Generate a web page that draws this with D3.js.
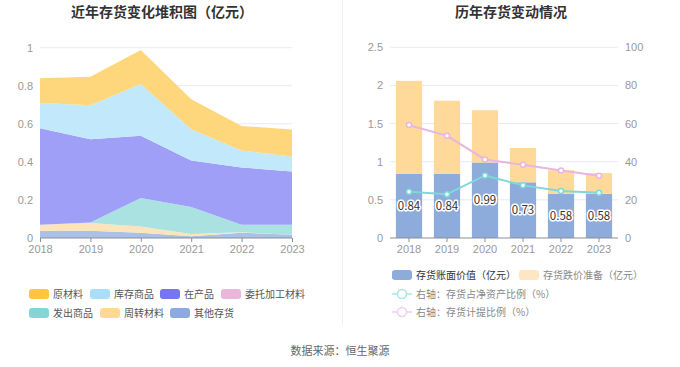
<!DOCTYPE html>
<html><head><meta charset="utf-8">
<script src="https://cdn.jsdelivr.net/npm/d3@7"></script>
<style>
body{margin:0;background:#fff;}
svg{display:block;font-family:"Noto Sans CJK SC","Noto Sans",sans-serif;}
</style></head>
<body>
<svg id="c" width="680" height="367"></svg>
<script>
const years = ["2018","2019","2020","2021","2022","2023"];
// stacked area series (亿元)
const rawMaterial = [0.129,0.150,0.179,0.157,0.129,0.142];   // 原材料
const goodsInStock = [0.133,0.179,0.272,0.165,0.089,0.078];  // 库存商品
const wip = [0.507,0.437,0.327,0.244,0.301,0.280];           // 在产品
const consigned = [0,0,0,0,0,0];                             // 委托加工材料
const goodsShipped = [0,0.003,0.149,0.142,0.040,0.053];      // 发出商品
const turnover = [0.032,0.041,0.033,0.012,0.002,0];          // 周转材料
const otherInv = [0.038,0.038,0.028,0.009,0.028,0.017];      // 其他存货
const areaNames = ["原材料","库存商品","在产品","委托加工材料","发出商品","周转材料","其他存货"];
const leftTicks = [0,0.2,0.4,0.6,0.8,1];
// right chart
const bookValue = [0.84,0.84,0.99,0.73,0.58,0.58];      // 存货账面价值
const provision = [1.22,0.96,0.685,0.45,0.31,0.27];     // 存货跌价准备
const netAssetRatio = [24.3,23.0,32.8,27.6,24.6,23.7];  // 存货占净资产比例
const provisionRatio = [59.2,53.6,41.2,38.4,35.4,32.6]; // 存货计提比例
const rightTicksL = [0,0.5,1,1.5,2,2.5];
const rightTicksR = [0,20,40,60,80,100];

const svg = d3.select("#c");
const areaColors = ["#ffc53d","#a8def8","#7776ee","#e8b7da","#85d4d6","#ffd894","#8caadb"];
const areaFill = ["#fed67b","#c2e8fb","#a09ff7","#efcde6","#a9e2e1","#fee4b8","#a9c1e6"];
const gridColor = "#e6eaf4";
const tickColor = "#999";

// titles
svg.append("text").attr("x",162).attr("y",17).attr("text-anchor","middle")
  .attr("font-size",14).attr("font-weight","bold").attr("fill","#333").text("近年存货变化堆积图（亿元）");
svg.append("text").attr("x",511).attr("y",17).attr("text-anchor","middle")
  .attr("font-size",14).attr("font-weight","bold").attr("fill","#333").text("历年存货变动情况");
// divider
svg.append("line").attr("x1",342.5).attr("x2",342.5).attr("y1",0).attr("y2",325).attr("stroke","#eeeeee");
// source
svg.append("text").attr("x",340).attr("y",355).attr("text-anchor","middle")
  .attr("font-size",11).attr("fill","#666").text("数据来源：恒生聚源");

// ---- left chart ----
const xL = d3.scalePoint().domain(years).range([40,292]);
const yL = d3.scaleLinear().domain([0,1]).range([238,47.7]);
const gL = svg.append("g");
leftTicks.forEach(t=>{
  if(t>0) gL.append("line").attr("x1",40).attr("x2",292).attr("y1",yL(t)).attr("y2",yL(t)).attr("stroke",gridColor);
});
const yAxL = d3.axisLeft(yL).tickValues(leftTicks).tickSize(0).tickPadding(7).tickFormat(d=>d3.format("~g")(d));
gL.append("g").attr("transform","translate(40,0)").call(yAxL)
  .call(g=>g.select(".domain").remove())
  .call(g=>g.selectAll("text").attr("fill",tickColor).attr("font-size",11).attr("font-family","inherit"));

const series = [rawMaterial,goodsInStock,wip,consigned,goodsShipped,turnover,otherInv];
const rows = years.map((y,i)=>{const o={year:y}; areaNames.forEach((n,k)=>o[n]=series[k][i]); return o;});
const stackOrder = areaNames.slice().reverse();
const stacked = d3.stack().keys(stackOrder)(rows);
const area = d3.area().x(d=>xL(d.data.year)).y0(d=>yL(d[0])).y1(d=>yL(d[1]));
stacked.forEach(s=>{
  const k = areaNames.indexOf(s.key);
  gL.append("path").attr("d",area(s)).attr("fill",areaFill[k]);
});
const xAxL = d3.axisBottom(xL).tickSize(4).tickPadding(3);
gL.append("g").attr("transform","translate(0,238)").call(xAxL)
  .call(g=>g.select(".domain").attr("stroke","#8a8f99").attr("d","M40,0H292"))
  .call(g=>g.selectAll("line").attr("stroke","#8a8f99"))
  .call(g=>g.selectAll("text").attr("fill",tickColor).attr("font-size",11).attr("font-family","inherit"));

// left legend
const legPos = [[29,294],[90,294],[160,294],[221,294],[29,313],[100,313],[170,313]];
areaNames.forEach((n,k)=>{
  const [x,y]=legPos[k];
  svg.append("rect").attr("x",x).attr("y",y-5).attr("width",20).attr("height",10).attr("rx",3).attr("fill",areaColors[k]);
  svg.append("text").attr("x",x+24).attr("y",y+3.5).attr("font-size",10).attr("fill","#555").text(n);
});

// ---- right chart ----
const xR = d3.scaleBand().domain(years).range([390,618]).paddingInner(0.31).paddingOuter(0.155);
const yR = d3.scaleLinear().domain([0,2.5]).range([238,47.3]);
const yR2 = d3.scaleLinear().domain([0,100]).range([238,47.3]);
const gR = svg.append("g");
rightTicksL.forEach(t=>{
  if(t>0) gR.append("line").attr("x1",390).attr("x2",618).attr("y1",yR(t)).attr("y2",yR(t)).attr("stroke",gridColor);
});
gR.append("g").attr("transform","translate(390,0)").call(d3.axisLeft(yR).tickValues(rightTicksL).tickSize(0).tickPadding(7).tickFormat(d=>d3.format("~g")(d)))
  .call(g=>g.select(".domain").remove())
  .call(g=>g.selectAll("text").attr("fill",tickColor).attr("font-size",11).attr("font-family","inherit"));
gR.append("g").attr("transform","translate(618,0)").call(d3.axisRight(yR2).tickValues(rightTicksR).tickSize(0).tickPadding(7))
  .call(g=>g.select(".domain").remove())
  .call(g=>g.selectAll("text").attr("fill",tickColor).attr("font-size",11).attr("font-family","inherit"));

years.forEach((y,i)=>{
  gR.append("rect").attr("x",xR(y)).attr("width",xR.bandwidth()).attr("y",yR(bookValue[i])).attr("height",yR(0)-yR(bookValue[i])).attr("fill","#8dacdb");
  gR.append("rect").attr("x",xR(y)).attr("width",xR.bandwidth()).attr("y",yR(bookValue[i]+provision[i])).attr("height",yR(bookValue[i])-yR(bookValue[i]+provision[i])).attr("fill","#ffd99a");
});
const cx = y=>xR(y)+xR.bandwidth()/2;
const line2 = d3.line().x((d,i)=>cx(years[i])).y(d=>yR2(d));
[[provisionRatio,"#e9b6e0"],[netAssetRatio,"#7fd8d8"]].forEach(([arr,col])=>{
  gR.append("path").attr("d",line2(arr)).attr("fill","none").attr("stroke",col).attr("stroke-width",2);
  arr.forEach((v,i)=>gR.append("circle").attr("cx",cx(years[i])).attr("cy",yR2(v)).attr("r",2.5).attr("fill","#fff").attr("stroke",col).attr("stroke-width",1.5));
});
// bar labels
years.forEach((y,i)=>{
  const ly = (yR(bookValue[i])+yR(0))/2+4;
  gR.append("text").attr("x",cx(y)).attr("y",ly).attr("text-anchor","middle").attr("font-size",11.5)
    .attr("stroke","#fff").attr("stroke-width",3).attr("stroke-linejoin","round").attr("fill","#fff").text(d3.format(".2f")(bookValue[i]));
  gR.append("text").attr("x",cx(y)).attr("y",ly).attr("text-anchor","middle").attr("font-size",11.5).attr("fill","#333").text(d3.format(".2f")(bookValue[i]));
});
gR.append("g").attr("transform","translate(0,238)").call(d3.axisBottom(xR).tickSize(4).tickPadding(3))
  .call(g=>g.select(".domain").attr("stroke","#8a8f99").attr("d","M390,0H618"))
  .call(g=>g.selectAll("line").attr("stroke","#8a8f99"))
  .call(g=>g.selectAll("text").attr("fill",tickColor).attr("font-size",11).attr("font-family","inherit"));

// right legend
svg.append("rect").attr("x",392).attr("y",270).attr("width",20).attr("height",10).attr("rx",3).attr("fill","#8dacdb");
svg.append("text").attr("x",416).attr("y",278.5).attr("font-size",10).attr("fill","#333").text("存货账面价值（亿元）");
svg.append("rect").attr("x",519).attr("y",270).attr("width",20).attr("height",10).attr("rx",3).attr("fill","#fee6c4");
svg.append("text").attr("x",543).attr("y",278.5).attr("font-size",10).attr("fill","#888").text("存货跌价准备（亿元）");
[["右轴：存货占净资产比例（%）","#a9e6e6",294],["右轴：存货计提比例（%）","#f1cdea",312]].forEach(([t,c,y])=>{
  svg.append("line").attr("x1",392).attr("x2",412).attr("y1",y).attr("y2",y).attr("stroke",c).attr("stroke-width",1.5);
  svg.append("circle").attr("cx",402).attr("cy",y).attr("r",4.5).attr("fill","#fff").attr("stroke",c).attr("stroke-width",1.5);
  svg.append("text").attr("x",416).attr("y",y+3.5).attr("font-size",10).attr("fill","#888").text(t);
});
</script>
</body></html>
